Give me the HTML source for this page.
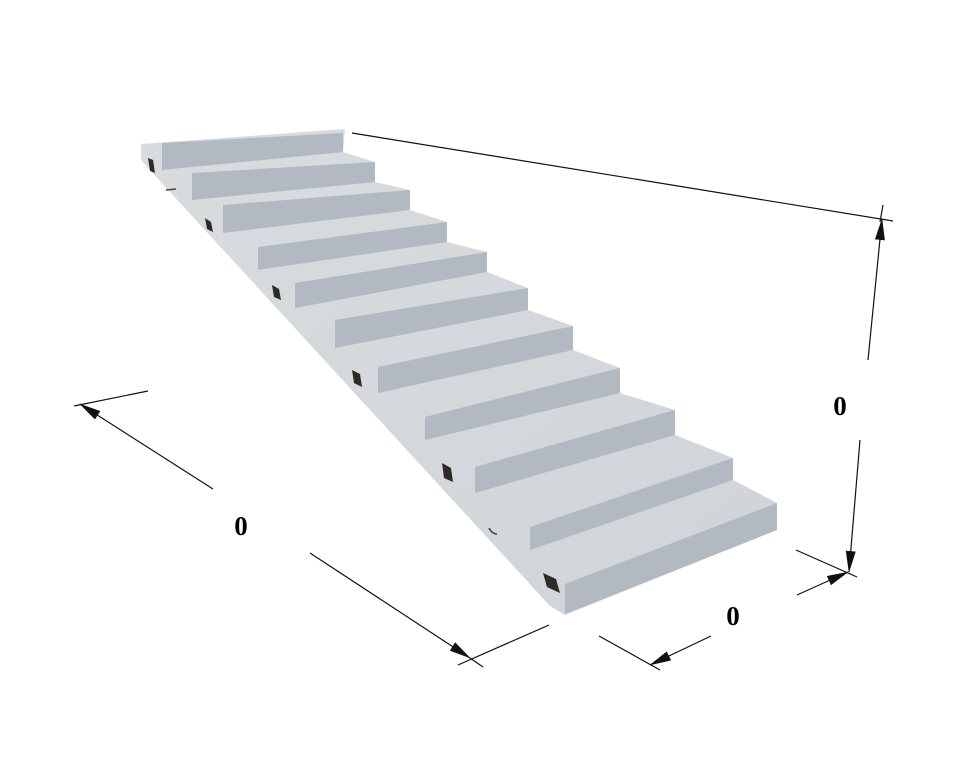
<!DOCTYPE html>
<html><head><meta charset="utf-8"><style>
html,body{margin:0;padding:0;background:#fff;}
svg{display:block;}
text{font-family:"Liberation Serif",serif;font-weight:bold;font-size:27px;fill:#000;}
</style></head><body>
<svg width="978" height="762" viewBox="0 0 978 762" xmlns="http://www.w3.org/2000/svg">
<defs>
<marker id="ah" markerWidth="22" markerHeight="10" refX="21" refY="5" orient="auto" markerUnits="userSpaceOnUse">
<path d="M0,0 L22,5 L0,10 Z" fill="#111"/>
</marker>
<linearGradient id="side" x1="0" y1="0" x2="1" y2="1">
<stop offset="0" stop-color="#d9dcdf"/><stop offset="1" stop-color="#d0d4d8"/>
</linearGradient>
</defs>
<polygon fill="url(#side)" points="141,144 345,129 343,152 375,162 375,182 410,190 410,210 447,222 447,242 487,252 487,272 528,288 528,310 573,326 573,350 620,368 620,393 675,410 675,435 733,458 733,480 777,503 777,530 565,615 550,606 148,168 141,160"/>
<g fill="#b3b9c1">
<polygon points="162,143 343,133 343,152 162,170"/>
<polygon points="192,173 375,162 375,182 192,200"/>
<polygon points="223,205 410,190 410,210 223,233"/>
<polygon points="258,247 447,222 447,242 258,270"/>
<polygon points="295,283 487,252 487,272 295,308"/>
<polygon points="335,320 528,288 528,310 335,348"/>
<polygon points="378,367 573,326 573,350 378,393"/>
<polygon points="425,417 620,368 620,393 425,440"/>
<polygon points="475,467 675,410 675,435 475,493"/>
<polygon points="530,527 733,458 733,480 530,550"/>
<polygon points="565,584 777,503 777,530 565,614"/>
</g>
<g fill="#2e2a26">
<polygon points="148,158 153,160 155,173 150,171"/>
<polygon points="205,218 211,222 213,232 207,229"/>
<polygon points="272,285 279,289 281,300 274,297"/>
<polygon points="352,370 360,374 362,387 354,383"/>
<polygon points="442,463 451,468 453,482 444,478"/>
<polygon points="543,573 556,579 560,593 547,587"/>
</g>
<path d="M166,190 l10,-1 M489,528 q3,6 8,6" stroke="#444" stroke-width="1.5" fill="none"/>
<g stroke="#111" stroke-width="1.2" fill="none">
<line x1="352" y1="133" x2="893" y2="221"/>
<line x1="883" y1="205" x2="880" y2="222"/>
<line x1="868" y1="360" x2="882" y2="219" marker-end="url(#ah)"/>
<line x1="860" y1="440" x2="849" y2="572" marker-end="url(#ah)"/>
<line x1="796" y1="550" x2="857" y2="577"/>
<line x1="797" y1="595" x2="848" y2="572" marker-end="url(#ah)"/>
<line x1="599" y1="636" x2="660" y2="670"/>
<line x1="711" y1="636" x2="650" y2="665" marker-end="url(#ah)"/>
<line x1="74" y1="406" x2="148" y2="391"/>
<line x1="213" y1="489" x2="80" y2="404" marker-end="url(#ah)"/>
<line x1="310" y1="553" x2="470" y2="658" marker-end="url(#ah)"/>
<line x1="470" y1="658" x2="483" y2="667"/>
<line x1="458" y1="665" x2="549" y2="625"/>
</g>
<text x="840" y="415" text-anchor="middle">0</text>
<text x="733" y="625" text-anchor="middle">0</text>
<text x="241" y="535" text-anchor="middle">0</text>
</svg>
</body></html>
